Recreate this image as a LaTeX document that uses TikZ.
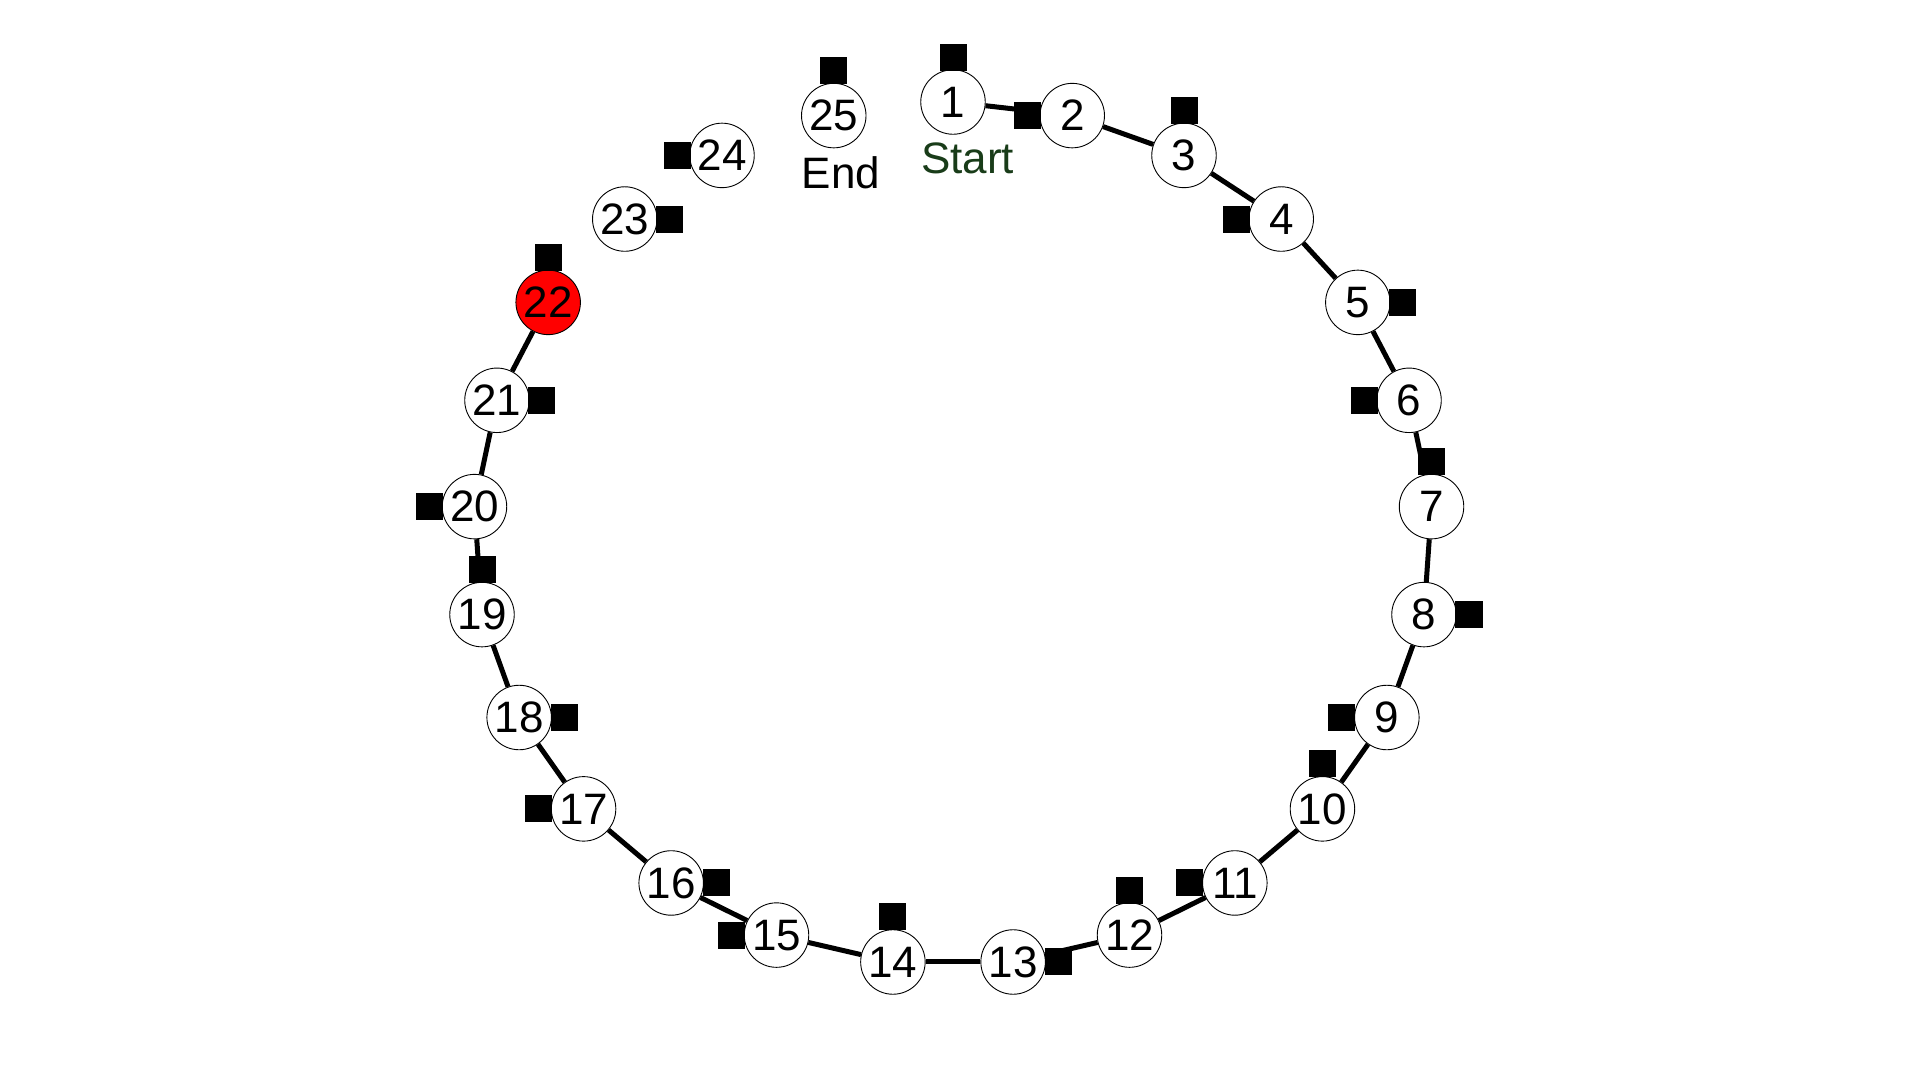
\documentclass[tikz,border=0pt]{standalone}
\usepackage{fontspec}
\setmainfont{Liberation Sans}
\usetikzlibrary{backgrounds,calc}
\definecolor{startgreen}{RGB}{25,60,25}
\begin{document}
\begin{tikzpicture}[x=1pt,y=1pt,
  nd/.style={circle,draw,line width=0.9pt,minimum size=64.5pt,inner sep=0pt,font=\fontsize{44}{44}\selectfont},
  sq/.style={rectangle,fill=black,minimum size=27pt,inner sep=0pt},
  link/.style={line width=5pt},
  lbl/.style={font=\fontsize{44}{44}\selectfont,inner sep=0pt,anchor=north west}]
\useasboundingbox (0,0) rectangle (1920,-1080);
% nodes
\foreach \k/\f in {1/white,2/white,3/white,4/white,5/white,6/white,7/white,8/white,9/white,10/white,11/white,12/white,13/white,14/white,15/white,16/white,17/white,18/white,19/white,20/white,21/white,22/red,23/white,24/white,25/white} {
  \pgfmathsetmacro\a{90-(\k-1)*14.4}
  \node[nd,fill=\f] (n\k) at ({953+479.5*cos(\a)},{-533.7+431.7*sin(\a)}) {\k};
}
% background and connectors
\begin{pgfonlayer}{background}
\fill[white] (0,0) rectangle (1920,-1080);
\foreach \i in {1,...,21} {
  \pgfmathtruncatemacro\j{\i+1}
  \draw[link] (n\i) -- (n\j);
}
\end{pgfonlayer}
% squares
\foreach \k/\d in {1/90,2/180,3/90,4/180,5/0,6/180,7/90,8/0,9/180,10/90,11/180,12/90,13/0,14/90,15/180,16/0,17/180,18/0,19/90,20/180,21/0,22/90,23/0,24/180,25/90} {
  \node[sq] (s\k) at ($(n\k)+(\d:45)$) {};
}
% labels
\node[lbl,xshift=-32pt,yshift=-8pt] (endlbl) at (n25.south) {End};
\node[lbl,text=startgreen,xshift=-32pt,yshift=-8pt] (startlbl) at (n1.south) {Start};
\end{tikzpicture}
\end{document}
